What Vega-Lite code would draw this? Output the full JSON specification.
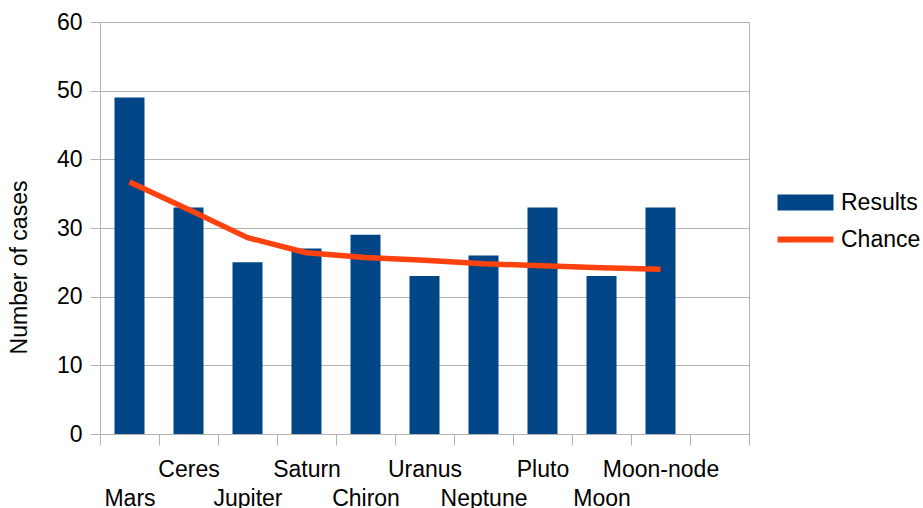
{
  "$schema": "https://vega.github.io/schema/vega-lite/v6.json",
  "autosize": {"type": "none"},
  "padding": {"left": 100, "top": 22, "right": 174, "bottom": 74},
  "width": 649,
  "height": 412,
  "config": {
    "font": "Liberation Sans",
    "view": {"stroke": "#b3b3b3", "strokeWidth": 1},
    "axis": {"labelColor": "#000000", "titleColor": "#000000"}
  },
  "data": {
    "values": [
      {"planet": "Mars", "Results": 49, "Chance": 36.7},
      {"planet": "Ceres", "Results": 33, "Chance": 32.7},
      {"planet": "Jupiter", "Results": 25, "Chance": 28.6},
      {"planet": "Saturn", "Results": 27, "Chance": 26.4},
      {"planet": "Chiron", "Results": 29, "Chance": 25.7},
      {"planet": "Uranus", "Results": 23, "Chance": 25.3},
      {"planet": "Neptune", "Results": 26, "Chance": 24.8},
      {"planet": "Pluto", "Results": 33, "Chance": 24.5},
      {"planet": "Moon", "Results": 23, "Chance": 24.2},
      {"planet": "Moon-node", "Results": 33, "Chance": 24.0}
    ]
  },
  "transform": [{"fold": ["Results", "Chance"], "as": ["series", "value"]}],
  "encoding": {
    "x": {
      "field": "planet",
      "type": "nominal",
      "sort": null,
      "scale": {
        "domain": ["Mars", "Ceres", "Jupiter", "Saturn", "Chiron", "Uranus", "Neptune", "Pluto", "Moon", "Moon-node", " "],
        "paddingInner": 0,
        "paddingOuter": 0
      },
      "axis": {
        "title": null,
        "labelAngle": 0,
        "labelFontSize": 23,
        "labelBaseline": "top",
        "labelLineHeight": 29,
        "labelPadding": 13,
        "labelOverlap": false,
        "labelFlush": false,
        "labelLimit": 0,
        "labelExpr": "indexof(['Mars','Jupiter','Chiron','Neptune','Moon'], datum.value) >= 0 ? ['', datum.value] : datum.value",
        "tickBand": "extent",
        "tickSize": 11,
        "tickColor": "#b3b3b3",
        "domainColor": "#b3b3b3",
        "grid": false
      }
    },
    "y": {
      "field": "value",
      "type": "quantitative",
      "scale": {"domain": [0, 60], "nice": false},
      "axis": {
        "title": "Number of cases",
        "values": [0, 10, 20, 30, 40, 50, 60],
        "grid": true,
        "gridColor": "#b3b3b3",
        "domainColor": "#b3b3b3",
        "tickColor": "#b3b3b3",
        "tickSize": 10,
        "labelPadding": 8,
        "labelFontSize": 23,
        "titleFontSize": 23,
        "titleFontWeight": "normal",
        "titleAngle": -90,
        "titleBaseline": "alphabetic",
        "titleAlign": "center",
        "titleX": -74,
        "titleY": 245
      }
    },
    "color": {
      "field": "series",
      "type": "nominal",
      "scale": {"domain": ["Results", "Chance"], "range": ["#004586", "#ff420e"]},
      "legend": {
        "title": null,
        "orient": "none",
        "legendX": 666,
        "legendY": 169,
        "labelFontSize": 23,
        "labelColor": "#000000",
        "symbolSize": 4,
        "labelOffset": 52,
        "rowPadding": 13,
        "encode": {
          "symbols": {
            "update": {
              "shape": {"signal": "datum.value === 'Results' ? 'M0,-8H56V8H0Z' : 'M0,-3H56V3H0Z'"},
              "fill": {"signal": "datum.value === 'Results' ? '#004586' : '#ff420e'"},
              "fillOpacity": {"value": 1},
              "strokeWidth": {"value": 0},
              "opacity": {"value": 1}
            }
          }
        }
      }
    }
  },
  "layer": [
    {
      "transform": [{"filter": "datum.series === 'Results'"}],
      "mark": {"type": "bar", "size": 30}
    },
    {
      "transform": [{"filter": "datum.series === 'Chance'"}],
      "mark": {"type": "line", "strokeWidth": 5.5, "strokeCap": "butt", "strokeJoin": "round"}
    }
  ]
}
